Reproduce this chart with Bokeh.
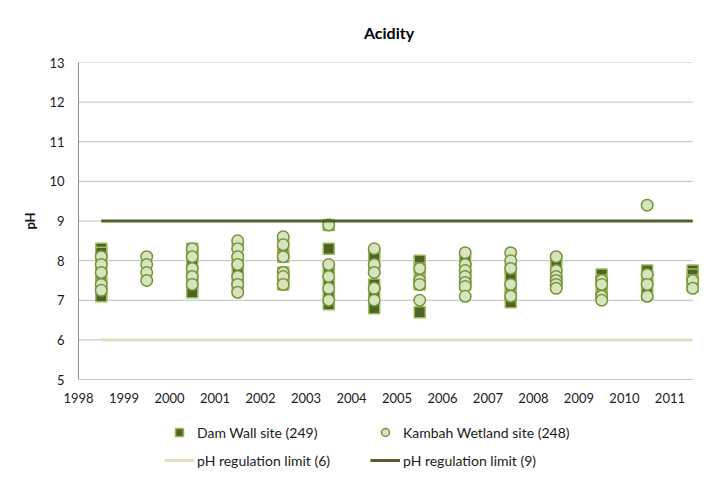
from bokeh.plotting import figure
from bokeh.layouts import column
from bokeh.models import FixedTicker, Legend, LegendItem, Range1d, Title
from bokeh.embed import file_html
from bokeh.resources import INLINE

# ---- data ----
years = [1998, 1999, 2000, 2001, 2002, 2003, 2004, 2005, 2006, 2007, 2008, 2009, 2010, 2011]
sample_pos = [y + 0.5 for y in years]

dam_wall_ph = [
    [8.3, 8.2, 8.0, 7.8, 7.6, 7.4, 7.2, 7.1],
    [],
    [8.3, 8.1, 7.9, 7.6, 7.4, 7.2],
    [8.4, 8.0, 7.7, 7.5, 7.3],
    [8.5, 8.2, 8.1, 7.7, 7.5, 7.4],
    [8.9, 8.3, 7.8, 7.5, 7.2, 6.9],
    [8.2, 8.1, 7.8, 7.4, 7.2, 6.8],
    [8.0, 7.8, 7.5, 7.4, 6.7],
    [8.0, 7.8, 7.6, 7.4],
    [7.8, 7.6, 7.3, 7.1, 6.95],
    [8.0, 7.9, 7.6, 7.4],
    [7.65, 7.5, 7.25, 7.1],
    [7.75, 7.6, 7.4, 7.15],
    [7.75, 7.65, 7.5, 7.35],
]
kambah_ph = [
    [8.1, 7.9, 7.7, 7.4, 7.25],
    [8.1, 7.9, 7.7, 7.5],
    [8.3, 8.1, 7.8, 7.6, 7.4],
    [8.5, 8.3, 8.1, 7.9, 7.6, 7.4, 7.2],
    [8.6, 8.4, 8.1, 7.7, 7.6, 7.4],
    [8.9, 7.9, 7.6, 7.3, 7.0],
    [8.3, 7.9, 7.7, 7.3, 7.0],
    [7.8, 7.5, 7.4, 7.0],
    [8.2, 7.9, 7.75, 7.6, 7.45, 7.35, 7.1],
    [8.2, 8.0, 7.8, 7.4, 7.1],
    [8.1, 7.75, 7.6, 7.5, 7.4, 7.3],
    [7.5, 7.4, 7.1, 7.0],
    [9.4, 7.65, 7.4, 7.1],
    [7.5, 7.3],
]
limit_x = [1998.5, 2011.5]
limit_low = [6, 6]
limit_high = [9, 9]
y_ticks = [5, 6, 7, 8, 9, 10, 11, 12, 13]
x_axis_end = 2011.5

legend_labels = ["Dam Wall site (249)", "Kambah Wetland site (248)",
                 "pH regulation limit (6)", "pH regulation limit (9)"]

DAM_STYLE = dict(marker="square", size=11, fill_color="#4f6228", line_color="#9bbb59", line_width=1.5)
KAM_STYLE = dict(marker="circle", size=11.5, fill_color="#d7e4bd", line_color="#77933c", line_width=1.5)
LOW_STYLE = dict(line_color="#d7e4bd", line_width=3)
HIGH_STYLE = dict(line_color="#4f6228", line_width=3)


def flatten(pos, vals):
    xs, ys = [], []
    for x, col in zip(pos, vals):
        for v in col:
            xs.append(x)
            ys.append(v)
    return xs, ys


dx, dy = flatten(sample_pos, dam_wall_ph)
kx, ky = flatten(sample_pos, kambah_ph)

FONT = "Lato"

# frame extends a little past the last gridline so edge markers are not clipped
p = figure(width=721, height=420, output_backend="svg", toolbar_location=None,
           x_range=Range1d(years[0], x_axis_end + 0.15), y_range=Range1d(y_ticks[0], y_ticks[-1]),
           min_border_left=78, min_border_right=22, min_border_top=61, min_border_bottom=41)
p.outline_line_color = None
p.background_fill_color = "white"
p.border_fill_color = "white"

t = Title(text="Acidity", align="center", text_font=FONT, text_font_size="16px",
          text_font_style="bold", text_color="#000000", standoff=41)
p.add_layout(t, "above")

p.xaxis.ticker = FixedTicker(ticks=years)
p.xaxis.major_label_overrides = {y: str(y) for y in years}
p.yaxis.ticker = FixedTicker(ticks=y_ticks)
for ax in (p.xaxis, p.yaxis):
    ax.major_tick_line_color = None
    ax.minor_tick_line_color = None
    ax.major_label_text_font = FONT
    ax.major_label_text_font_size = "13px"
    ax.major_label_text_color = "#1a1a1a"
p.yaxis.axis_line_color = "#8c8c8c"
p.xaxis.axis_line_color = None
p.xaxis.major_label_standoff = 7
p.yaxis.major_label_standoff = 8
p.yaxis.axis_label = "pH"
p.yaxis.axis_label_text_font = FONT
p.yaxis.axis_label_text_font_size = "13px"
p.yaxis.axis_label_text_font_style = "bold"
p.yaxis.axis_label_text_color = "#111111"
p.yaxis.axis_label_standoff = 8

p.xgrid.grid_line_color = None
p.ygrid.grid_line_color = None

# horizontal gridlines (and the category axis line) ending at the last year
grid_colors = ["#8c8c8c"] + ["#bfbfbf"] * (len(y_ticks) - 1)
p.segment(x0=[years[0]] * len(y_ticks), x1=[x_axis_end] * len(y_ticks),
          y0=y_ticks, y1=y_ticks, line_color=grid_colors, line_width=1)

p.scatter(dx, dy, **DAM_STYLE)
p.scatter(kx, ky, **KAM_STYLE)
p.line(limit_x, limit_low, **LOW_STYLE)
p.line(limit_x, limit_high, **HIGH_STYLE)

# legend strip below the chart
lg = figure(width=721, height=57, output_backend="svg", toolbar_location=None,
            x_range=Range1d(0, 1), y_range=Range1d(0, 1), x_axis_type=None, y_axis_type=None,
            min_border=0)
lg.outline_line_color = None
lg.grid.visible = False
nan = float("nan")
l_dam = lg.scatter([nan], [nan], **DAM_STYLE)
l_kam = lg.scatter([nan], [nan], **KAM_STYLE)
l_low = lg.line([nan, nan], [nan, nan], **LOW_STYLE)
l_high = lg.line([nan, nan], [nan, nan], **HIGH_STYLE)

legend = Legend(items=[
    LegendItem(label=legend_labels[0], renderers=[l_dam]),
    LegendItem(label=legend_labels[1], renderers=[l_kam]),
    LegendItem(label=legend_labels[2], renderers=[l_low]),
    LegendItem(label=legend_labels[3], renderers=[l_high]),
], orientation="horizontal", ncols=2, location=(86, 7),
    glyph_width=30, glyph_height=20, label_height=20, label_width=165, label_standoff=3,
    spacing=8, padding=0, margin=0, border_line_color=None,
    background_fill_alpha=0, label_text_font=FONT, label_text_font_size="14px",
    label_text_color="#1a1a1a")
lg.add_layout(legend, "center")

layout = column(p, lg, spacing=0)
open("out.html", "w").write(file_html(layout, INLINE))
